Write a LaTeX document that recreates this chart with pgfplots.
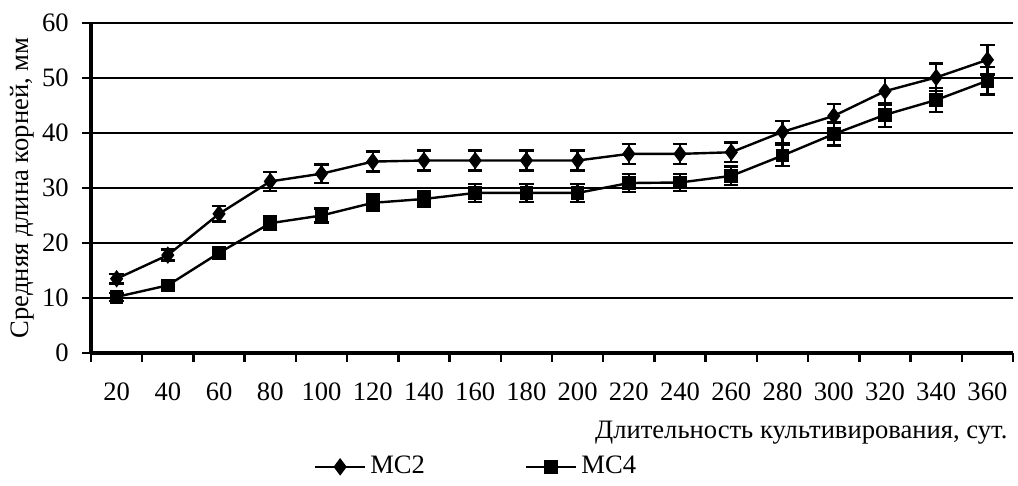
\documentclass[border=0pt]{standalone}
\usepackage{fontspec}
\setmainfont{Liberation Serif}
\usepackage{pgfplots}
\usepackage{pgfplotstable}
\pgfplotsset{compat=1.18}
\pgfplotstableread{
x y e
0 13.5 0.9
1 17.8 1.0
2 25.3 1.4
3 31.2 1.7
4 32.6 1.7
5 34.8 1.8
6 35.0 1.8
7 35.0 1.8
8 35.0 1.8
9 35.0 1.8
10 36.2 1.8
11 36.2 1.8
12 36.5 1.8
13 40.2 2.0
14 43.1 2.2
15 47.6 2.4
16 50.1 2.5
17 53.3 2.7
}\mctwo
\pgfplotstableread{
x y e
0 10.2 0.7
1 12.3 0.8
2 18.2 1.0
3 23.6 1.2
4 25.0 1.3
5 27.3 1.5
6 28.0 1.5
7 29.1 1.6
8 29.1 1.6
9 29.1 1.6
10 30.9 1.6
11 31.0 1.5
12 32.2 1.7
13 35.9 1.9
14 39.8 2.1
15 43.3 2.2
16 46.0 2.2
17 49.5 2.5
}\mcfour
\begin{document}
\fontsize{13.3}{15}\selectfont
\begin{tikzpicture}
\begin{axis}[
  scale only axis, width=461pt, height=165pt,
  xmin=-0.5, xmax=17.5, ymin=0, ymax=60,
  axis x line=bottom, axis y line=left,
  axis line style={line width=1.8pt,-},
  tick align=outside,
  xtick={0,...,17},
  xticklabels={20,40,60,80,100,120,140,160,180,200,220,240,260,280,300,320,340,360},
  major x tick style={draw=none},
  minor xtick={-0.5,0.5,...,17.5},
  minor x tick style={line width=1.2pt,black},
  minor tick length=4.5pt,
  ytick={0,10,...,60},
  major tick length=4.5pt,
  major y tick style={line width=1.2pt,black},
  ymajorgrids, grid style={line width=1.4pt,black},
  /pgf/number format/assume math mode=true,
  tick label style={font=\fontsize{13.3}{15}\selectfont},
  x tick label style={yshift=-6pt},
  y tick label style={xshift=-2pt},
  ylabel={Средняя длина корней, мм},
  ylabel style={at={(axis description cs:-0.0748,0.5)}, anchor=center},
  xlabel={Длительность культивирования, сут.},
  xlabel style={at={(rel axis cs:1.004,0)}, anchor=north east, yshift=-29.5pt},
  label style={font=\fontsize{13.3}{15}\selectfont},
  legend style={draw=none, at={(rel axis cs:0.4187,-0.345)}, anchor=center,
    legend columns=2, font=\fontsize{13.3}{15}\selectfont,
    /tikz/every even column/.append style={column sep=48pt}},
  legend image code/.code={
    \draw[#1, line width=1.2pt] (0pt,0pt) -- (25pt,0pt);
    \draw[#1, mark repeat=1] plot coordinates {(12.5pt,0pt)};
  },
  clip=false,
]
\path[draw=none] (rel axis cs:-0.0987,-0.394) rectangle (rel axis cs:1.0054,1.0697);
\addplot[black, line width=1.2pt, mark=diamond*, mark size=3.4pt, mark options={solid},
  error bars/.cd, y dir=both, y explicit,
  error bar style={line width=1.2pt, black},
  error mark options={rotate=90, line width=1.2pt, mark size=3.6pt, black}]
  table[x=x, y=y, y error=e] {\mctwo};
\addlegendentry{МС2}
\addplot[black, line width=1.2pt, mark=square*, mark size=2.8pt, mark options={solid},
  error bars/.cd, y dir=both, y explicit,
  error bar style={line width=1.2pt, black},
  error mark options={rotate=90, line width=1.2pt, mark size=3.6pt, black}]
  table[x=x, y=y, y error=e] {\mcfour};
\addlegendentry{МС4}
\end{axis}
\end{tikzpicture}
\end{document}
